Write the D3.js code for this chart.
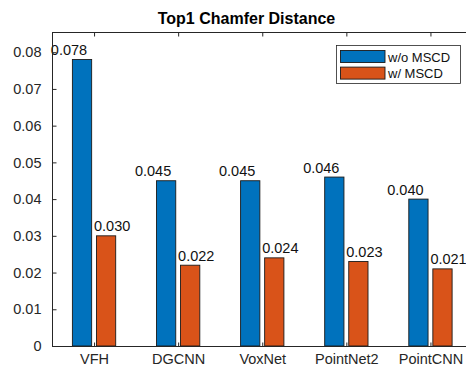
<!DOCTYPE html>
<html>
<head>
<meta charset="utf-8">
<script src="https://cdn.jsdelivr.net/npm/d3@7"></script>
<style>
  html, body { margin: 0; padding: 0; background: #fff; }
  svg { display: block; font-family: "Liberation Sans", Arial, Helvetica, sans-serif; }
</style>
</head>
<body>
<svg id="chart" width="466" height="367"></svg>
<script>
const categories = ["VFH", "DGCNN", "VoxNet", "PointNet2", "PointCNN"];
const seriesNames = ["w/o MSCD", "w/ MSCD"];
const withoutMSCD = [0.078, 0.045, 0.045, 0.046, 0.040];
const withMSCD = [0.030, 0.022, 0.024, 0.023, 0.021];
const yTicks = [0, 0.01, 0.02, 0.03, 0.04, 0.05, 0.06, 0.07, 0.08];
const yTickLabels = ["0", "0.01", "0.02", "0.03", "0.04", "0.05", "0.06", "0.07", "0.08"];
const titleText = "Top1 Chamfer Distance";

const colors = ["#0072BD", "#D95319"];
const axisColor = "#262626";
const svg = d3.select("#chart");

const x = d3.scaleLinear().domain([0.5, 5.5]).range([52, 472.5]);
const y = d3.scaleLinear().domain([0, 0.0855]).range([346, 32]);

const barOffset = 0.143, barW = 0.229;
const series = [withoutMSCD, withMSCD];

// bars
series.forEach((vals, s) => {
  const off = s === 0 ? -barOffset : barOffset;
  svg.append("g").selectAll("rect").data(vals).join("rect")
    .attr("x", (d, i) => x(i + 1 + off - barW / 2))
    .attr("width", x(barW) - x(0))
    .attr("y", d => y(d))
    .attr("height", d => y(0) - y(d))
    .attr("fill", colors[s])
    .attr("stroke", "#1a1a1a")
    .attr("stroke-width", 0.9);
});

// value labels
series.forEach((vals, s) => {
  const off = s === 0 ? -barOffset - 0.155 : barOffset + 0.072;
  svg.append("g").selectAll("text").data(vals).join("text")
    .attr("x", (d, i) => x(i + 1 + off))
    .attr("y", d => y(d) - 4.5)
    .attr("text-anchor", "middle")
    .attr("font-size", 14.5)
    .attr("fill", "#111")
    .text(d => d.toFixed(3));
});

// axes box
const g = svg.append("g").attr("stroke", axisColor).attr("stroke-width", 1).attr("fill", "none");
g.append("line").attr("x1", 52.5).attr("x2", 52.5).attr("y1", 32).attr("y2", 346.5);
g.append("line").attr("x1", 52).attr("x2", 472.5).attr("y1", 346.5).attr("y2", 346.5);
g.append("line").attr("x1", 52).attr("x2", 472.5).attr("y1", 32.5).attr("y2", 32.5);

// y ticks
const yAxis = d3.axisLeft(y).tickValues(yTicks).tickSize(-4).tickPadding(11)
  .tickFormat((d, i) => yTickLabels[i]);
const ya = svg.append("g").attr("transform", "translate(52.5,0)").call(yAxis);
ya.select(".domain").remove();
ya.selectAll(".tick line").attr("stroke", axisColor);
ya.selectAll(".tick text").attr("font-size", 14.5).attr("fill", axisColor)
  .attr("font-family", "Liberation Sans, Arial, sans-serif");

// x ticks bottom
const xAxis = d3.axisBottom(x).tickValues(categories.map((c, i) => i + 1)).tickSize(-4).tickPadding(0)
  .tickFormat((d, i) => categories[i]);
const xa = svg.append("g").attr("transform", "translate(0,346.5)").call(xAxis);
xa.select(".domain").remove();
xa.selectAll(".tick line").attr("stroke", axisColor);
xa.selectAll(".tick text").attr("font-size", 14.5).attr("fill", axisColor)
  .attr("dy", null).attr("y", 17.5)
  .attr("font-family", "Liberation Sans, Arial, sans-serif");

// x ticks top
const xTop = svg.append("g").attr("transform", "translate(0,32.5)")
  .call(d3.axisTop(x).tickValues(categories.map((c, i) => i + 1)).tickSize(-4).tickFormat(""));
xTop.select(".domain").remove();
xTop.selectAll(".tick line").attr("stroke", axisColor);

// title
svg.append("text").attr("x", 246.5).attr("y", 24)
  .attr("text-anchor", "middle").attr("font-size", 16).attr("font-weight", "bold")
  .attr("fill", "#000").text(titleText);

// legend
const lg = svg.append("g");
lg.append("rect").attr("x", 336.5).attr("y", 45.5).attr("width", 124).attr("height", 38)
  .attr("fill", "#fff").attr("stroke", axisColor).attr("stroke-width", 0.8);
seriesNames.forEach((name, s) => {
  const yy = 50 + s * 16.6;
  lg.append("rect").attr("x", 340.5).attr("y", yy + 0.5).attr("width", 44.5).attr("height", 12)
    .attr("fill", colors[s]).attr("stroke", "#1a1a1a").attr("stroke-width", 0.9);
  lg.append("text").attr("x", 388).attr("y", yy + 11.5)
    .attr("font-size", 13).attr("fill", "#111").text(name);
});
</script>
</body>
</html>
